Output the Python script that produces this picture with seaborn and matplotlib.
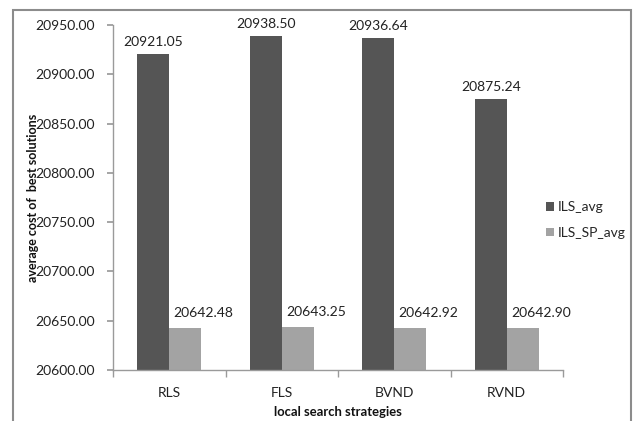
import matplotlib
matplotlib.use("Agg")
import matplotlib.pyplot as plt
import seaborn as sns
import pandas as pd
from matplotlib.patches import Rectangle

categories = ["RLS", "FLS", "BVND", "RVND"]
ils_avg = [20921.05, 20938.50, 20936.64, 20875.24]
ils_sp_avg = [20642.48, 20643.25, 20642.92, 20642.90]
series_names = ["ILS_avg", "ILS_SP_avg"]
y_ticks = [20600, 20650, 20700, 20750, 20800, 20850, 20900, 20950]

df = pd.DataFrame({
    "strategy": categories * 2,
    "series": [series_names[0]] * 4 + [series_names[1]] * 4,
    "value": ils_avg + ils_sp_avg,
})

sns.set_theme(style="white")
plt.rcParams["font.family"] = ["Lato", "DejaVu Sans"]

fig = plt.figure(figsize=(6.34, 4.21), dpi=100)
ax = fig.add_axes([113 / 634, 1 - 370 / 421, (563 - 113) / 634, (370 - 25) / 421])

palette = {"ILS_avg": "#555555", "ILS_SP_avg": "#a3a3a3"}
sns.barplot(data=df, x="strategy", y="value", hue="series", order=categories,
            hue_order=series_names, palette=palette, width=0.57, gap=0,
            saturation=1, ax=ax, errorbar=None, edgecolor="none")

ax.set_ylim(20600, 20950)
ax.set_xlim(-0.5, 3.5)
ax.set_yticks(y_ticks)
ax.set_yticklabels([f"{v:.2f}" for v in y_ticks], fontsize=10, color="#222222")
ax.set_xticks([0, 1, 2, 3])
ax.set_xticklabels(categories, fontsize=10, color="#222222")

for s in ["top", "right"]:
    ax.spines[s].set_visible(False)
for s in ["left", "bottom"]:
    ax.spines[s].set_color("#9a9a9a")
    ax.spines[s].set_linewidth(1.0)

ax.tick_params(axis="y", which="major", length=4, color="#9a9a9a", direction="out", left=True, pad=9)
ax.tick_params(axis="x", which="major", length=0, pad=12)
ax.set_xticks([-0.5, 0.5, 1.5, 2.5, 3.5], minor=True)
ax.tick_params(axis="x", which="minor", length=5, color="#9a9a9a", direction="out", bottom=True)

ax.set_xlabel("local search strategies", fontsize=9.4, fontweight="bold", color="#111111")
ax.xaxis.set_label_coords(0.5, -(412 - 370) / 345, transform=ax.transAxes)
ax.xaxis.label.set_va("center")
ax.set_ylabel("average cost of  best solutions", fontsize=9.0, fontweight="bold", color="#111111")
ax.yaxis.set_label_coords(-(113 - 33) / 450, 0.5, transform=ax.transAxes)
ax.yaxis.label.set_va("center")

# value labels
conts = ax.containers
for bar, v in zip(conts[0], ils_avg):
    ax.annotate(f"{v:.2f}", (bar.get_x() + bar.get_width() / 2, bar.get_height()),
                xytext=(0, 6), textcoords="offset pixels", ha="center", va="bottom",
                fontsize=10, color="#222222")
for bar, v in zip(conts[1], ils_sp_avg):
    ax.annotate(f"{v:.2f}", (bar.get_x() + bar.get_width() / 2, bar.get_height()),
                xytext=(18, 9), textcoords="offset pixels", ha="center", va="bottom",
                fontsize=10, color="#222222")

sns.move_legend(ax, loc="center left", bbox_to_anchor=(533 / 634, 1 - 220 / 421),
                bbox_transform=fig.transFigure, frameon=False, title=None,
                fontsize=10, handlelength=0.6, handleheight=0.6, handletextpad=0.3,
                labelspacing=1.0)

# outer chart frame
fig.patches.append(Rectangle((13 / 634, -0.05), (631 - 13) / 634, 1.05 - 10 / 421,
                             transform=fig.transFigure, fill=False,
                             edgecolor="#8c8c8c", linewidth=1.5))

fig.savefig("out.png", dpi=100)
